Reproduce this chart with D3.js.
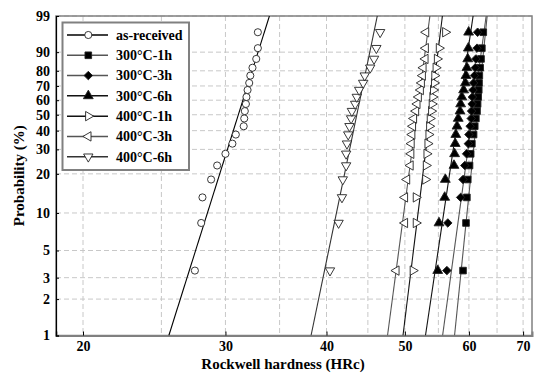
<!DOCTYPE html>
<html>
<head>
<meta charset="utf-8">
<script src="https://cdn.jsdelivr.net/npm/d3@7"></script>
<style>
  body { margin: 0; background: #fff; }
  svg { display: block; }
  text { font-family: "Liberation Serif", "Times New Roman", serif; font-weight: bold; fill: #000; }
</style>
</head>
<body>
<svg id="chart" width="535" height="375"></svg>
<script>
// probability axis ticks (%) and hardness ticks
const probTicks = [1, 2, 3, 5, 10, 20, 30, 40, 50, 60, 70, 80, 90, 99];
const hardTicks = [20, 30, 40, 50, 60, 70];
const hardGrid = [20, 25, 30, 35, 40, 45, 50, 55, 60, 65, 70];

// plotting positions of the 20 ranked specimens (%)
const rankProb = [3.43, 8.33, 13.24, 18.14, 23.04, 27.94, 32.84, 37.75, 42.65, 47.55,
                  52.45, 57.35, 62.25, 67.16, 72.06, 76.96, 81.86, 86.76, 91.67, 96.57];

const seriesNames = ['as-received', '300\u00B0C-1h', '300\u00B0C-3h', '300\u00B0C-6h',
                     '400\u00B0C-1h', '400\u00B0C-3h', '400\u00B0C-6h'];

// ranked hardness values (HRc)
const asReceived = [27.5, 28.0, 28.1, 28.8, 29.3, 30.0, 30.6, 30.9, 31.6, 31.65,
                    31.7, 31.8, 31.85, 31.95, 32.1, 32.2, 32.4, 32.75, 32.9, 32.9];
const h300_1h = [59.0, 59.5, 59.65, 59.8, 60.1, 60.3, 60.5, 60.8, 61.0, 61.2,
                 61.4, 61.5, 61.6, 61.7, 61.75, 61.8, 61.95, 62.1, 62.25, 62.5];
const h300_3h = [56.35, 56.5, 58.6, 59.0, 59.3, 59.6, 59.9, 60.0, 60.2, 60.4,
                 60.45, 60.55, 60.6, 60.7, 60.8, 60.95, 61.1, 61.2, 61.4, 61.5];
const h300_6h = [54.9, 55.1, 56.0, 56.1, 57.5, 57.6, 57.7, 57.8, 58.0, 58.2,
                 58.5, 58.6, 58.8, 59.1, 59.4, 59.5, 59.65, 59.8, 59.9, 59.95];
const h400_1h = [51.15, 51.6, 51.6, 53.0, 53.1, 53.2, 53.35, 53.5, 53.6, 53.7,
                 53.9, 54.0, 54.1, 54.2, 54.35, 54.4, 54.6, 54.8, 55.1, 56.1];
const h400_3h = [48.8, 50.0, 50.0, 50.3, 50.8, 50.9, 50.95, 51.05, 51.15, 51.3,
                 51.6, 51.8, 52.0, 52.3, 52.45, 52.6, 52.7, 53.0, 53.05, 53.1];
const h400_6h = [40.4, 41.4, 41.8, 41.9, 42.3, 42.3, 42.4, 42.55, 42.7, 42.9,
                 43.0, 43.4, 43.6, 43.9, 44.4, 44.6, 45.3, 45.8, 46.1, 46.6];

// Weibull fit parameters
const fitShape = [21.4, 66.0, 49.4, 45.2, 54.6, 50.8, 32.5];
const fitScale = [31.66, 61.75, 61.1, 58.7, 54.1, 52.1, 44.1];

const seriesData = [asReceived, h300_1h, h300_3h, h300_6h, h400_1h, h400_3h, h400_6h];

const styles = [
  { sym: d3.symbolCircle, size: 40, rot: 0, fill: '#fff', line: '#000' },
  { sym: d3.symbolSquare, size: 44, rot: 0, fill: '#000', line: '#555' },
  { sym: d3.symbolSquare, size: 36, rot: 45, fill: '#000', line: '#555' },
  { sym: d3.symbolTriangle, size: 42, rot: 0, fill: '#000', line: '#111' },
  { sym: d3.symbolTriangle, size: 38, rot: 90, fill: '#fff', line: '#111' },
  { sym: d3.symbolTriangle, size: 38, rot: -90, fill: '#fff', line: '#555' },
  { sym: d3.symbolTriangle, size: 38, rot: 180, fill: '#fff', line: '#333' }
];

const weib = p => Math.log(-Math.log(1 - p / 100));

const mLeft = 56, mRight = 532, mTop = 16, mBottom = 335.5;

const svg = d3.select('#chart');

const x = d3.scaleLog().domain([18.52, 71.8]).range([mLeft, mRight]);
const y = d3.scaleLinear().domain([weib(1), weib(99)]).range([mBottom, mTop]);

// grid
const grid = svg.append('g').attr('class', 'grid')
  .attr('stroke', '#c8c8c8').attr('stroke-width', 1).attr('stroke-dasharray', '5,3');
grid.selectAll('.vg').data(hardGrid).join('line')
  .attr('x1', d => x(d)).attr('x2', d => x(d))
  .attr('y1', mTop).attr('y2', mBottom);
grid.selectAll('.hg').data(probTicks).join('line')
  .attr('x1', mLeft).attr('x2', mRight)
  .attr('y1', d => y(weib(d))).attr('y2', d => y(weib(d)));

// frame
svg.append('rect')
  .attr('x', mLeft).attr('y', mTop)
  .attr('width', mRight - mLeft).attr('height', mBottom - mTop)
  .attr('fill', 'none').attr('stroke', '#808080').attr('stroke-width', 1.5);

// axes
const xAxis = svg.append('g')
  .attr('transform', `translate(0,${mBottom})`)
  .call(d3.axisBottom(x).tickValues(hardTicks).tickFormat(d3.format('d'))
    .tickSize(-4).tickPadding(6));
xAxis.select('.domain').attr('stroke', '#808080').attr('stroke-width', 2);
xAxis.selectAll('text').attr('font-size', 14).attr('font-family', null);

const yAxis = svg.append('g')
  .attr('transform', `translate(${mLeft},0)`)
  .call(d3.axisLeft(y).tickValues(probTicks.map(weib))
    .tickFormat((d, i) => probTicks[i]).tickSize(-3).tickPadding(6));
yAxis.select('.domain').attr('stroke', '#000').attr('stroke-width', 1.2);
yAxis.selectAll('text').attr('font-size', 14).attr('font-family', null);

// axis titles
svg.append('text')
  .attr('x', (mLeft + mRight) / 2 - 11).attr('y', 369)
  .attr('text-anchor', 'middle').attr('font-size', 15)
  .text('Rockwell hardness (HRc)');
svg.append('text')
  .attr('transform', `translate(24,${(mTop + mBottom) / 2}) rotate(-90)`)
  .attr('text-anchor', 'middle').attr('font-size', 15)
  .text('Probability (%)');

// clip for fit lines
svg.append('clipPath').attr('id', 'plotClip')
  .append('rect').attr('x', mLeft).attr('y', mTop)
  .attr('width', mRight - mLeft).attr('height', mBottom - mTop);

const plot = svg.append('g').attr('clip-path', 'url(#plotClip)');

const fitLine = d3.line().x(d => x(d.h)).y(d => y(d.w));

seriesData.forEach((vals, s) => {
  const m = fitShape[s], eta = fitScale[s];
  const ends = [weib(1), weib(99)].map(w => ({ w: w, h: eta * Math.exp(w / m) }));
  plot.append('path')
    .datum(ends)
    .attr('d', fitLine)
    .attr('fill', 'none')
    .attr('stroke', styles[s].line)
    .attr('stroke-width', 1.1);
});

const marks = svg.append('g');
seriesData.forEach((vals, s) => {
  const st = styles[s];
  const sym = d3.symbol().type(st.sym).size(st.size);
  marks.append('g').selectAll('path')
    .data(vals.map((h, i) => ({ h: h, p: rankProb[i] })))
    .join('path')
    .attr('d', sym)
    .attr('transform', d => `translate(${x(d.h)},${y(weib(d.p))}) rotate(${st.rot})`)
    .attr('fill', st.fill)
    .attr('stroke', '#222')
    .attr('stroke-width', 0.9);
});

// legend
const lg = svg.append('g');
lg.append('rect')
  .attr('x', 62.5).attr('y', 22.5).attr('width', 126.5).attr('height', 147.5)
  .attr('fill', '#fff').attr('stroke', '#808080').attr('stroke-width', 2);

const rowY = d3.scaleLinear().domain([0, seriesNames.length - 1]).range([35, 156.7]);

seriesNames.forEach((name, s) => {
  const st = styles[s];
  const yy = rowY(s);
  lg.append('line')
    .attr('x1', 67).attr('x2', 108).attr('y1', yy).attr('y2', yy)
    .attr('stroke', st.line).attr('stroke-width', 1.5);
  lg.append('path')
    .attr('d', d3.symbol().type(st.sym).size(st.size)())
    .attr('transform', `translate(88.3,${yy}) rotate(${st.rot})`)
    .attr('fill', st.fill).attr('stroke', '#222').attr('stroke-width', 0.9);
  lg.append('text')
    .attr('x', 116).attr('y', yy + 4.8)
    .attr('font-size', 14)
    .text(name);
});
</script>
</body>
</html>
